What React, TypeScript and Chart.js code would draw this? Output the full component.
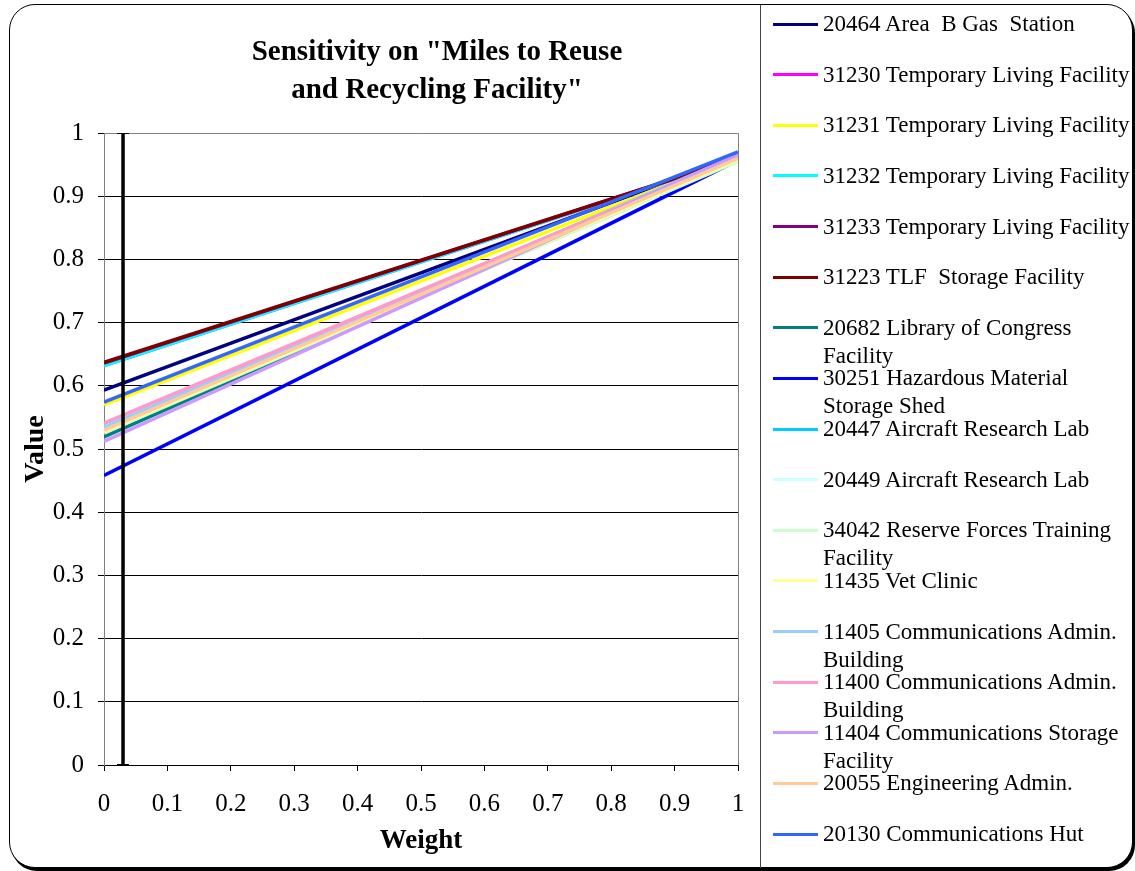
import React, { useEffect, useRef } from "react";
import { Chart, registerables } from "chart.js";

Chart.register(...registerables);

const X_WEIGHTS = [0, 1];
const CURRENT_WEIGHT = 0.03;

const SERIES_NAMES = [
  "20464 Area  B Gas  Station",
  "31230 Temporary Living Facility",
  "31231 Temporary Living Facility",
  "31232 Temporary Living Facility",
  "31233 Temporary Living Facility",
  "31223 TLF  Storage Facility",
  "20682 Library of Congress\nFacility",
  "30251 Hazardous Material\nStorage Shed",
  "20447 Aircraft Research Lab",
  "20449 Aircraft Research Lab",
  "34042 Reserve Forces Training\nFacility",
  "11435 Vet Clinic",
  "11405 Communications Admin.\nBuilding",
  "11400 Communications Admin.\nBuilding",
  "11404 Communications Storage\nFacility",
  "20055 Engineering Admin.",
  "20130 Communications Hut",
];

const SERIES_COLORS = [
  "#000080", "#FF00FF", "#FFFF00", "#00FFFF", "#800080", "#800000",
  "#008080", "#0000FF", "#00CCFF", "#CCFFFF", "#CCFFCC", "#FFFF99",
  "#99CCFF", "#FF99CC", "#CC99FF", "#FFCC99", "#3366FF",
];

// value at weight 0
const START_VALUES = [
  0.593, 0.632, 0.570, 0.632, 0.636, 0.637,
  0.519, 0.458, 0.537, 0.535, 0.526, 0.528,
  0.534, 0.541, 0.512, 0.530, 0.574,
];

// value at weight 1
const END_VALUES = [
  0.964, 0.960, 0.962, 0.960, 0.960, 0.960,
  0.962, 0.957, 0.963, 0.963, 0.955, 0.958,
  0.965, 0.962, 0.966, 0.960, 0.970,
];

const Y_MIN = 0;
const Y_MAX = 1;
const TICK_STEP = 0.1;

const SERIF = "'Liberation Serif', 'Times New Roman', serif";

const fmt = (v: number) => String(Math.round(v * 10) / 10);

const plotFramePlugin = {
  id: "plotFrame",
  beforeDatasetsDraw(chart: any) {
    const { ctx, chartArea } = chart;
    ctx.save();
    ctx.strokeStyle = "#808080";
    ctx.lineWidth = 1;
    ctx.beginPath();
    ctx.moveTo(chartArea.left, chartArea.top + 0.5);
    ctx.lineTo(chartArea.right + 0.5, chartArea.top + 0.5);
    ctx.lineTo(chartArea.right + 0.5, chartArea.bottom);
    ctx.stroke();
    ctx.restore();
  },
};

export default function App() {
  const canvasRef = useRef<HTMLCanvasElement | null>(null);

  useEffect(() => {
    if (!canvasRef.current) return;
    const n = SERIES_NAMES.length;
    const datasets: any[] = SERIES_NAMES.map((name, i) => ({
      label: name,
      data: X_WEIGHTS.map((x, j) => ({ x, y: j === 0 ? START_VALUES[i] : END_VALUES[i] })),
      borderColor: SERIES_COLORS[i],
      backgroundColor: SERIES_COLORS[i],
      borderWidth: 3.5,
      pointRadius: 0,
      fill: false,
      tension: 0,
      order: n - i,
    }));
    datasets.push({
      label: "Current weight",
      data: [
        { x: CURRENT_WEIGHT, y: Y_MIN },
        { x: CURRENT_WEIGHT, y: Y_MAX },
      ],
      borderColor: "#000",
      backgroundColor: "#000",
      borderWidth: 3.5,
      pointStyle: "line",
      pointRadius: 6,
      pointBorderWidth: 2,
      pointBorderColor: "#000",
      order: -1,
    });

    const chart = new Chart(canvasRef.current, {
      type: "line",
      data: { datasets },
      options: {
        animation: false,
        responsive: false,
        devicePixelRatio: 1,
        layout: { padding: { left: 0, right: 397, top: 133, bottom: 0 } },
        plugins: {
          legend: { display: false },
          tooltip: { enabled: false },
          title: { display: false },
        },
        scales: {
          x: {
            type: "linear",
            min: 0,
            max: 1,
            ticks: {
              stepSize: TICK_STEP,
              color: "#000",
              padding: 18,
              font: { family: SERIF, size: 25 },
              maxRotation: 0,
              callback: (v: any) => fmt(Number(v)),
            },
            grid: { drawOnChartArea: false, tickLength: 6, color: "#000" },
            border: { color: "#000" },
            title: {
              display: true,
              text: "Weight",
              color: "#000",
              font: { family: SERIF, size: 27, weight: "bold" },
              padding: { top: 0, bottom: 14 },
            },
            afterFit: (s: any) => {
              s.height = 106;
            },
          },
          y: {
            type: "linear",
            min: Y_MIN,
            max: Y_MAX,
            ticks: {
              stepSize: TICK_STEP,
              color: "#000",
              padding: 14,
              font: { family: SERIF, size: 25 },
              callback: (v: any) => fmt(Number(v)),
            },
            grid: {
              color: (c: any) => (c.tick && c.tick.value === Y_MAX ? "#808080" : "#000"),
              tickColor: "#000",
              tickLength: 6,
            },
            border: { color: "#808080" },
            title: {
              display: true,
              text: "Value",
              color: "#000",
              font: { family: SERIF, size: 28, weight: "bold" },
              padding: { top: 19, bottom: 0 },
            },
            afterFit: (s: any) => {
              s.width = 104;
            },
          },
        },
      } as any,
      plugins: [plotFramePlugin],
    });
    return () => chart.destroy();
  }, []);

  const legendTop = 24;
  const legendStep = 50.63;

  return (
    <div style={{ position: "absolute", left: 0, top: 0, width: 1135, height: 871, fontFamily: SERIF }}>
      <div
        style={{
          position: "absolute",
          left: 9,
          top: 4,
          width: 1124,
          height: 864,
          boxSizing: "border-box",
          border: "1px solid #000",
          borderRadius: 26,
          boxShadow: "2px 3px 0 #000",
          background: "#fff",
        }}
      />
      <div style={{ position: "absolute", left: 760, top: 5, width: 1, height: 863, background: "#444" }} />
      <canvas
        ref={canvasRef}
        width={1135}
        height={871}
        style={{ position: "absolute", left: 0, top: 0, width: 1135, height: 871, display: "block" }}
      />
      <div
        style={{
          position: "absolute",
          left: 137,
          top: 31,
          width: 600,
          textAlign: "center",
          fontWeight: "bold",
          fontSize: 29,
          lineHeight: "38px",
          color: "#000",
        }}
      >
        <div>Sensitivity on "Miles to Reuse</div>
        <div>and Recycling Facility"</div>
      </div>
      {SERIES_NAMES.map((name, i) => {
        const y = legendTop + i * legendStep;
        return (
          <div key={i}>
            <div
              style={{
                position: "absolute",
                left: 773,
                top: y - 1.5,
                width: 45,
                height: 3,
                background: SERIES_COLORS[i],
              }}
            />
            <div
              style={{
                position: "absolute",
                left: 823,
                top: y - 14,
                fontSize: 23,
                lineHeight: "28px",
                whiteSpace: "pre",
                color: "#000",
              }}
            >
              {name}
            </div>
          </div>
        );
      })}
    </div>
  );
}
